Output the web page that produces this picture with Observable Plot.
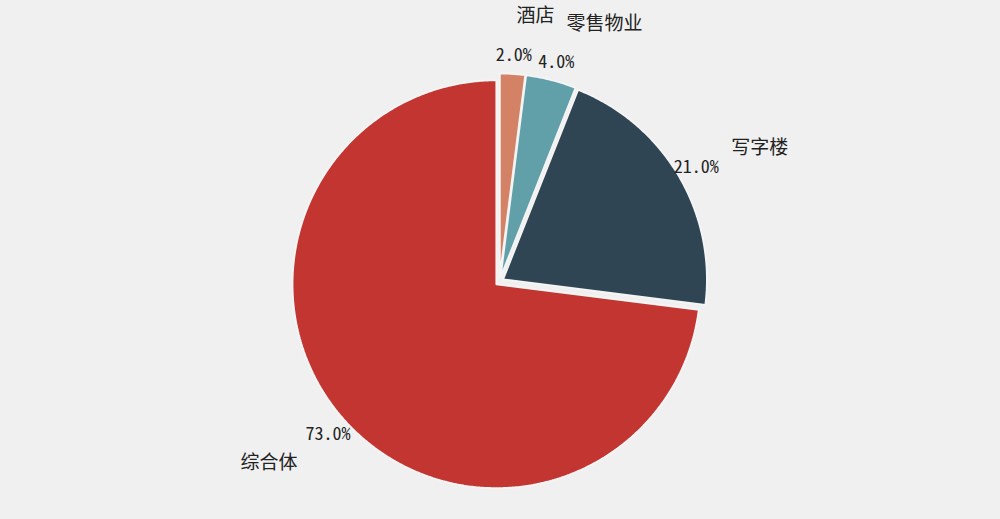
<!DOCTYPE html>
<html>
<head>
<meta charset="utf-8">
<script src="https://cdn.jsdelivr.net/npm/d3@7"></script>
<script src="https://cdn.jsdelivr.net/npm/@observablehq/plot@0.6"></script>
<style>
  html, body { margin: 0; padding: 0; background: #f0f0f0; }
  #chart svg { display: block; background: #f0f0f0; }
  .pct { font-feature-settings: "hwid" 1; }
</style>
</head>
<body>
<div id="chart"></div>
<script>
const categories = ["酒店", "零售物业", "写字楼", "综合体"];
const shares = [2.0, 4.0, 21.0, 73.0];
const colors = ["#d48265", "#61a0a8", "#2f4554", "#c23531"];

const W = 1000, H = 519;
const R = 204;           // radius px
const cx = 499, cy = 281; // centre px
const explode = 0.02, pctDist = 1.1, labelDist = 1.3;

const total = d3.sum(shares);
// angles measured clockwise from 12 o'clock
let acc = 0;
const slices = categories.map((name, i) => {
  const a0 = acc / total * 2 * Math.PI;
  acc += shares[i];
  const a1 = acc / total * 2 * Math.PI;
  const mid = (a0 + a1) / 2;
  const ox = explode * Math.sin(mid), oy = explode * Math.cos(mid);
  return {name, value: shares[i], color: colors[i], a0, a1, mid, ox, oy};
});

const pts = [];
for (const s of slices) {
  const n = Math.max(4, Math.ceil((s.a1 - s.a0) / (Math.PI / 360)));
  pts.push({name: s.name, x: s.ox, y: s.oy});
  for (let k = 0; k <= n; k++) {
    const a = s.a0 + (s.a1 - s.a0) * k / n;
    pts.push({name: s.name, x: s.ox + Math.sin(a), y: s.oy + Math.cos(a)});
  }
  pts.push({name: s.name, x: s.ox, y: s.oy});
}

const labels = slices.map(s => ({
  name: s.name,
  pct: s.value.toFixed(1) + "%",
  px: s.ox + pctDist * Math.sin(s.mid),
  py: s.oy + pctDist * Math.cos(s.mid),
  lx: s.ox + labelDist * Math.sin(s.mid),
  ly: s.oy + labelDist * Math.cos(s.mid),
  anchor: Math.sin(s.mid) >= 0 ? "start" : "end"
}));

const chart = Plot.plot({
  width: W, height: H,
  margin: 0,
  style: {background: "#f0f0f0", fontFamily: "'Noto Sans CJK SC', sans-serif"},
  x: {domain: [-cx / R, (W - cx) / R], axis: null},
  y: {domain: [-(H - cy) / R, cy / R], axis: null},
  color: {domain: categories, range: colors},
  marks: [
    Plot.line(pts, {x: "x", y: "y", z: "name", fill: "name", stroke: "#f4f4f4", strokeWidth: 2, strokeLinejoin: "miter", curve: "linear"}),
    Plot.text(labels, {x: "px", y: "py", text: "pct", fontSize: 18, fill: "#222", textAnchor: "middle", dy: 2, className: "pct"}),
    Plot.text(labels.filter(d => d.anchor === "start"), {x: "lx", y: "ly", text: "name", fontSize: 19, fill: "#222", textAnchor: "start", dy: 3}),
    Plot.text(labels.filter(d => d.anchor === "end"), {x: "lx", y: "ly", text: "name", fontSize: 19, fill: "#222", textAnchor: "end", dy: 3})
  ]
});
document.getElementById("chart").appendChild(chart);
</script>
</body>
</html>
